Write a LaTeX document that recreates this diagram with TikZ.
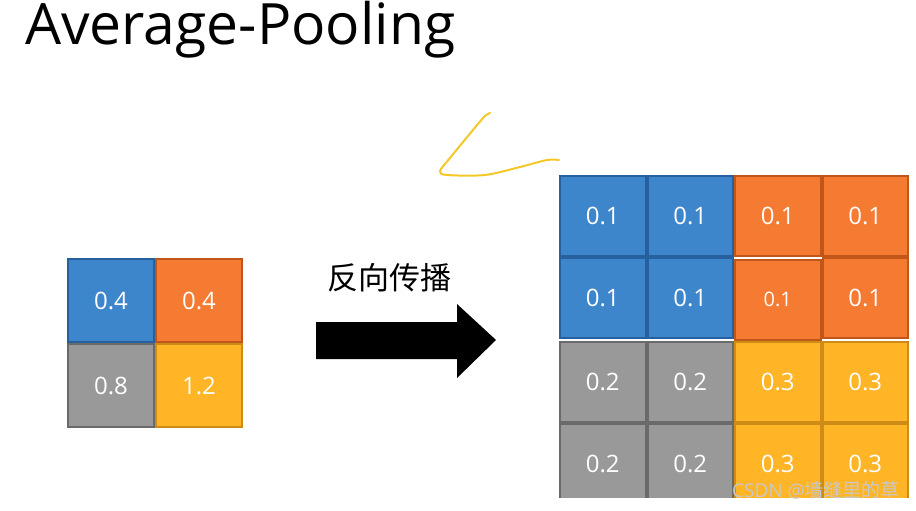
\documentclass[tikz,border=0pt]{standalone}
\usepackage{fontspec}
\setmainfont{Open Sans}
\newfontfamily\cjk{Noto Sans CJK SC}
\usetikzlibrary{matrix, positioning, calc}

\definecolor{cellblue}{RGB}{62,134,204}
\definecolor{edgeblue}{RGB}{38,96,158}
\definecolor{cellorange}{RGB}{245,122,50}
\definecolor{edgeorange}{RGB}{192,86,26}
\definecolor{cellgray}{RGB}{153,153,153}
\definecolor{edgegray}{RGB}{106,106,106}
\definecolor{cellyellow}{RGB}{255,181,38}
\definecolor{edgeyellow}{RGB}{206,140,22}
\definecolor{pen}{RGB}{245,200,40}
\definecolor{markgray}{RGB}{200,200,200}

\begin{document}
\begin{tikzpicture}[
    x=1pt, y=-1pt,
    cell/.style={draw, line width=2pt, inner sep=0pt, text=white,
                 font=\fontsize{24}{24}\selectfont},
    small/.style={cell, minimum width=86pt, minimum height=83pt},
    big/.style={cell, minimum width=85.5pt, minimum height=80pt},
    bcell/.style={fill=cellblue, draw=edgeblue},
    ocell/.style={fill=cellorange, draw=edgeorange},
    gcell/.style={fill=cellgray, draw=edgegray},
    ycell/.style={fill=cellyellow, draw=edgeyellow}
]
    \useasboundingbox (0,0) rectangle (916,511);
    \node[anchor=base west, inner sep=0pt, font=\fontsize{57}{64}\selectfont] (title) at (25,45) {Average-Pooling};

    % pooled 2x2
    \matrix (pooled) [matrix of nodes, nodes={small}, column sep=0pt, row sep=0pt] at (155,343) {
        |[bcell]| 0.4 & |[ocell]| 0.4 \\
        |[gcell]| 0.8 & |[ycell]| 1.2 \\
    };

    % block arrow
    \fill (316,322) -- (457,322) -- (457,304) -- (496,340)
        -- (457,378) -- (457,359) -- (316,359) -- cycle;
    \node[font=\cjk\fontsize{31}{31}\selectfont] (lbl) at (389,278) {反向传播};

    % gradient 4x4
    \begin{scope}
        \clip (0,0) rectangle (916,497);
        \matrix (grad) [matrix of nodes, nodes={big}, column sep=0pt, row sep=0pt] at (734,340) {
            |[bcell]| 0.1 & |[bcell]| 0.1 & |[ocell]| 0.1 & |[ocell]| 0.1 \\
            |[bcell]| 0.1 & |[bcell]| 0.1 & |[ocell, font=\fontsize{20}{20}\selectfont]| 0.1 & |[ocell]| 0.1 \\
            |[gcell]| 0.2 & |[gcell]| 0.2 & |[ycell]| 0.3 & |[ycell]| 0.3 \\
            |[gcell]| 0.2 & |[gcell]| 0.2 & |[ycell]| 0.3 & |[ycell]| 0.3 \\
        };
    \end{scope}

    \draw[pen, line width=2pt, line cap=round, line join=round] plot[smooth, tension=0.5] coordinates
        {(490,113) (484,117) (468,136) (450,158) (440,171) (447,175) (485,175) (520,167) (547,160) (559,160)};

    \node[anchor=base east, inner sep=0pt, font=\fontsize{19}{19}\selectfont, text=markgray] (mark) at (900,497) {CSDN @{\cjk 墙缝里的草}};
\end{tikzpicture}
\end{document}
